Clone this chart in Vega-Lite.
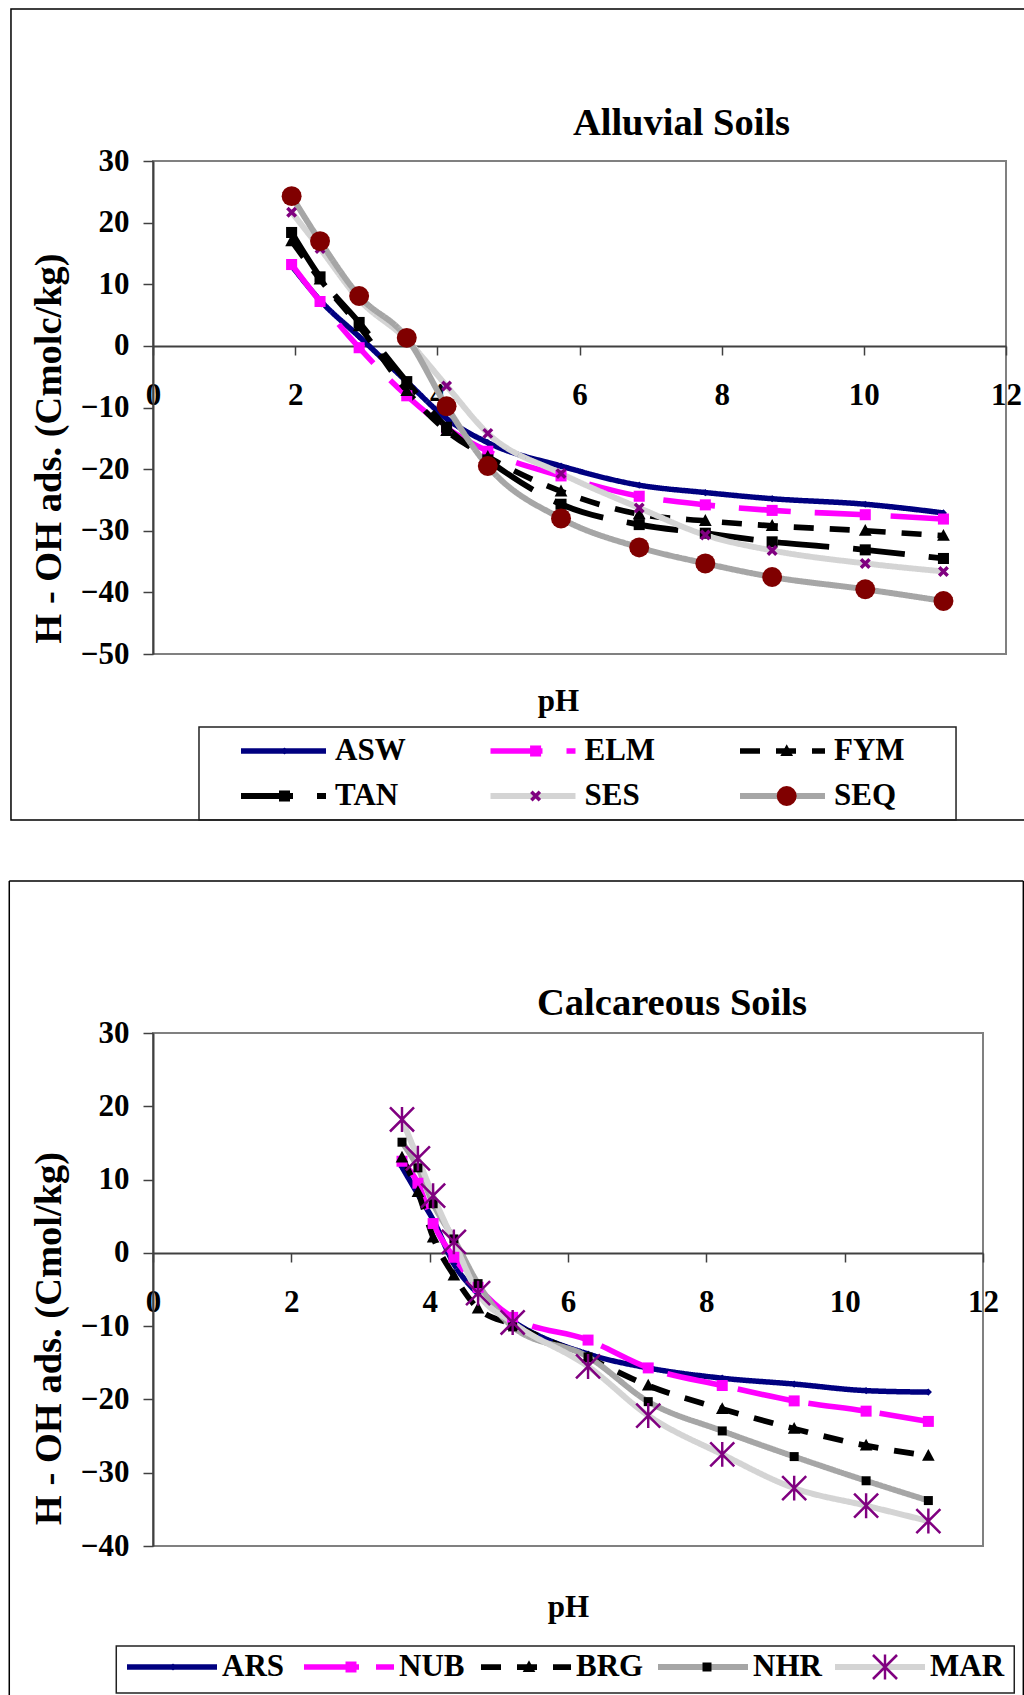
{
"$schema": "https://vega.github.io/schema/vega-lite/v6.json",
"padding": {"left": 7, "top": 7, "right": 0, "bottom": 0},
"spacing": 57,
"resolve": {"scale": {"stroke": "independent", "strokeDash": "independent", "strokeWidth": "independent", "fill": "independent", "shape": "independent"}},
"config": {
  "font": "Liberation Serif",
  "view": {"stroke": "#808080", "strokeWidth": 2},
  "axis": {"labelFont": "Liberation Serif", "labelFontWeight": "bold", "labelFontSize": 31, "labelColor": "#000", "titleFont": "Liberation Serif", "titleFontWeight": "bold", "titleColor": "#000", "grid": false, "domainColor": "#404040", "domainWidth": 2, "tickColor": "#404040", "tickWidth": 1.5, "labelFlush": false},
  "legend": {"labelFont": "Liberation Serif", "labelFontWeight": "bold", "labelFontSize": 31, "labelColor": "#000"},
  "title": {"font": "Liberation Serif", "fontWeight": "bold", "color": "#000"}
},
"vconcat": [
{
  "width": 853, "height": 493,
  "title": {"text": "Alluvial Soils", "fontSize": 38.5, "anchor": "middle", "frame": "group", "dx": 102, "baseline": "alphabetic", "offset": -165},
  "data": {"values": [
    {"pH":1.95,"series":"ASW","v":13.0},{"pH":2.35,"series":"ASW","v":7.4},{"pH":2.9,"series":"ASW","v":1.5},{"pH":3.57,"series":"ASW","v":-5.8},{"pH":4.13,"series":"ASW","v":-11.8},{"pH":4.71,"series":"ASW","v":-15.7},{"pH":5.74,"series":"ASW","v":-19.5},{"pH":6.84,"series":"ASW","v":-22.6},{"pH":7.77,"series":"ASW","v":-23.8},{"pH":8.71,"series":"ASW","v":-24.8},{"pH":10.02,"series":"ASW","v":-25.7},{"pH":11.12,"series":"ASW","v":-27.1},
    {"pH":1.95,"series":"ELM","v":13.2},{"pH":2.35,"series":"ELM","v":7.2},{"pH":2.9,"series":"ELM","v":-0.3},{"pH":3.57,"series":"ELM","v":-8.1},{"pH":4.13,"series":"ELM","v":-13.3},{"pH":4.71,"series":"ELM","v":-17.1},{"pH":5.74,"series":"ELM","v":-21.1},{"pH":6.84,"series":"ELM","v":-24.4},{"pH":7.77,"series":"ELM","v":-25.8},{"pH":8.71,"series":"ELM","v":-26.7},{"pH":10.02,"series":"ELM","v":-27.4},{"pH":11.12,"series":"ELM","v":-28.1},
    {"pH":1.95,"series":"FYM","v":17.0},{"pH":2.35,"series":"FYM","v":10.8},{"pH":2.9,"series":"FYM","v":3.2},{"pH":3.57,"series":"FYM","v":-7.3},{"pH":4.13,"series":"FYM","v":-13.8},{"pH":4.71,"series":"FYM","v":-18.0},{"pH":5.74,"series":"FYM","v":-23.6},{"pH":6.84,"series":"FYM","v":-27.3},{"pH":7.77,"series":"FYM","v":-28.4},{"pH":8.71,"series":"FYM","v":-29.2},{"pH":10.02,"series":"FYM","v":-30.0},{"pH":11.12,"series":"FYM","v":-30.8},
    {"pH":1.95,"series":"TAN","v":18.4},{"pH":2.35,"series":"TAN","v":11.2},{"pH":2.9,"series":"TAN","v":3.8},{"pH":3.57,"series":"TAN","v":-5.8},{"pH":4.13,"series":"TAN","v":-13.2},{"pH":4.71,"series":"TAN","v":-18.5},{"pH":5.74,"series":"TAN","v":-25.7},{"pH":6.84,"series":"TAN","v":-29.0},{"pH":7.77,"series":"TAN","v":-30.4},{"pH":8.71,"series":"TAN","v":-31.8},{"pH":10.02,"series":"TAN","v":-33.1},{"pH":11.12,"series":"TAN","v":-34.5},
    {"pH":1.95,"series":"SES","v":21.7},{"pH":2.35,"series":"SES","v":15.8},{"pH":2.9,"series":"SES","v":7.5},{"pH":3.57,"series":"SES","v":1.0},{"pH":4.13,"series":"SES","v":-6.5},{"pH":4.71,"series":"SES","v":-14.2},{"pH":5.74,"series":"SES","v":-20.7},{"pH":6.84,"series":"SES","v":-26.3},{"pH":7.77,"series":"SES","v":-30.7},{"pH":8.71,"series":"SES","v":-33.2},{"pH":10.02,"series":"SES","v":-35.3},{"pH":11.12,"series":"SES","v":-36.6},
    {"pH":1.95,"series":"SEQ","v":24.3},{"pH":2.35,"series":"SEQ","v":17.0},{"pH":2.9,"series":"SEQ","v":8.1},{"pH":3.57,"series":"SEQ","v":1.3},{"pH":4.13,"series":"SEQ","v":-9.8},{"pH":4.71,"series":"SEQ","v":-19.5},{"pH":5.74,"series":"SEQ","v":-28.0},{"pH":6.84,"series":"SEQ","v":-32.7},{"pH":7.77,"series":"SEQ","v":-35.3},{"pH":8.71,"series":"SEQ","v":-37.5},{"pH":10.02,"series":"SEQ","v":-39.5},{"pH":11.12,"series":"SEQ","v":-41.4}
  ]},
  "resolve": {"axis": {"x": "independent", "y": "independent"}},
  "layer": [
    {"data": {"values": [{}]}, "mark": {"type": "rect", "fill": "transparent", "stroke": "#000", "strokeWidth": 1.5},
     "encoding": {"x": {"datum": -1.998, "type": "quantitative", "scale": {"domain": [0, 12], "nice": false}, "axis": null}, "x2": {"datum": 12.267},
                  "y": {"datum": 54.66, "type": "quantitative", "scale": {"domain": [-50, 30], "nice": false}, "axis": null}, "y2": {"datum": -76.94}}},
    {"data": {"values": [{}]}, "mark": {"type": "rect", "fill": "transparent", "stroke": "#222", "strokeWidth": 1.5},
     "encoding": {"x": {"datum": 0.647, "type": "quantitative", "scale": {"domain": [0, 12], "nice": false}, "axis": null}, "x2": {"datum": 11.297},
                  "y": {"datum": -61.85, "type": "quantitative", "scale": {"domain": [-50, 30], "nice": false}, "axis": null}, "y2": {"datum": -76.94}}},
    {"mark": {"type": "line", "interpolate": "monotone"},
     "encoding": {
       "x": {"field": "pH", "type": "quantitative", "scale": {"domain": [0, 12], "nice": false},
             "axis": {"orient": "bottom", "values": [0, 2, 4, 6, 8, 10, 12], "offset": -308, "title": null, "tickSize": 9, "labelPadding": 25}},
       "y": {"field": "v", "type": "quantitative", "scale": {"domain": [-50, 30], "nice": false},
             "axis": {"orient": "left", "values": [-50, -40, -30, -20, -10, 0, 10, 20, 30], "title": "H - OH ads. (Cmolc/kg)", "titleFontSize": 38.5, "titlePadding": 12, "titleY": 287, "labelPadding": 14, "tickSize": 10}},
       "stroke": {"field": "series", "type": "nominal",
                  "scale": {"domain": ["ASW", "ELM", "FYM", "TAN", "SES", "SEQ"], "range": ["#000080", "#FF00FF", "#000000", "#000000", "#D4D4D4", "#A6A6A6"]},
                  "legend": {"title": null, "orient": "none", "legendX": 85, "legendY": 572, "direction": "horizontal", "columns": 3, "gridAlign": "all", "columnPadding": 81.5, "rowPadding": 9, "padding": 0, "symbolType": "stroke", "symbolSize": 7225, "labelOffset": 6, "clipHeight": 36}},
       "strokeDash": {"field": "series", "type": "nominal",
                  "scale": {"domain": ["ASW", "ELM", "FYM", "TAN", "SES", "SEQ"], "range": [[1, 0], [52, 24], [20, 16], [52, 24], [1, 0], [1, 0]]},
                  "legend": {"title": null, "orient": "none", "legendX": 85, "legendY": 572, "direction": "horizontal", "columns": 3, "gridAlign": "all", "columnPadding": 81.5, "rowPadding": 9, "padding": 0, "symbolType": "stroke", "symbolSize": 7225, "labelOffset": 6, "clipHeight": 36}},
       "strokeWidth": {"field": "series", "type": "nominal",
                  "scale": {"domain": ["ASW", "ELM", "FYM", "TAN", "SES", "SEQ"], "range": [5.5, 6, 6, 6, 8, 8]},
                  "legend": {"title": null, "orient": "none", "legendX": 85, "legendY": 572, "direction": "horizontal", "columns": 3, "gridAlign": "all", "columnPadding": 81.5, "rowPadding": 9, "padding": 0, "symbolType": "stroke", "symbolSize": 7225, "labelOffset": 6, "clipHeight": 36}}
     }},
    {"mark": {"type": "point", "filled": true, "size": 7225, "opacity": 1, "strokeWidth": 0},
     "encoding": {
       "x": {"field": "pH", "type": "quantitative", "scale": {"domain": [0, 12], "nice": false},
             "axis": {"orient": "bottom", "title": "pH", "domain": false, "ticks": false, "labels": false, "titleFontSize": 31, "titleBaseline": "alphabetic", "titlePadding": 56, "titleX": 405, "titleAlign": "center"}},
       "y": {"field": "v", "type": "quantitative", "scale": {"domain": [-50, 30], "nice": false}, "axis": null},
       "fill": {"field": "series", "type": "nominal",
                "scale": {"domain": ["ASW", "ELM", "FYM", "TAN", "SES", "SEQ", "~"], "range": ["#000080", "#FF00FF", "#000000", "#000000", "#800080", "#800000", "#ffffff"]},
                "legend": {"title": null, "values": ["ASW", "ELM", "FYM", "TAN", "SES", "SEQ"], "labelExpr": "''", "orient": "none", "legendX": 85, "legendY": 572, "direction": "horizontal", "columns": 3, "gridAlign": "all", "columnPadding": 152.1, "rowPadding": 9, "padding": 0, "symbolSize": 7225, "symbolStrokeWidth": 8, "symbolStrokeColor": "transparent", "labelOffset": 6, "clipHeight": 36}},
       "shape": {"field": "series", "type": "nominal",
                "scale": {"domain": ["ASW", "ELM", "FYM", "TAN", "SES", "SEQ", "~"], "range": [
                  "M-1,0M1,0M0,-0.085L0.085,0L0,0.085L-0.085,0Z",
                  "M-1,0M1,0M-0.13,-0.13L0.13,-0.13L0.13,0.13L-0.13,0.13Z",
                  "M-1,0M1,0M0,-0.16L0.15,0.12L-0.15,0.12Z",
                  "M-1,0M1,0M-0.13,-0.13L0.13,-0.13L0.13,0.13L-0.13,0.13Z",
                  "M-1,0M1,0M-0.071,-0.129L0.129,0.071L0.071,0.129L-0.129,-0.071ZM-0.129,0.071L0.071,-0.129L0.129,-0.071L-0.071,0.129Z",
                  "M-1,0M1,0M0.235,0L0.217,0.09L0.166,0.166L0.09,0.217L0,0.235L-0.09,0.217L-0.166,0.166L-0.217,0.09L-0.235,0L-0.217,-0.09L-0.166,-0.166L-0.09,-0.217L0,-0.235L0.09,-0.217L0.166,-0.166L0.217,-0.09Z",
                  "M-1,0M1,0"]},
                "legend": {"title": null, "values": ["ASW", "ELM", "FYM", "TAN", "SES", "SEQ"], "labelExpr": "''", "orient": "none", "legendX": 85, "legendY": 572, "direction": "horizontal", "columns": 3, "gridAlign": "all", "columnPadding": 152.1, "rowPadding": 9, "padding": 0, "symbolSize": 7225, "symbolStrokeWidth": 8, "symbolStrokeColor": "transparent", "labelOffset": 6, "clipHeight": 36}}
     }}
  ]
},
{
  "width": 830, "height": 513,
  "title": {"text": "Calcareous Soils", "fontSize": 38.5, "anchor": "middle", "frame": "group", "dx": 104, "baseline": "alphabetic", "offset": -173},
  "data": {"values": [
    {"pH":3.6,"series":"ARS","v":11.7},{"pH":3.83,"series":"ARS","v":8.0},{"pH":4.05,"series":"ARS","v":4.5},{"pH":4.35,"series":"ARS","v":-1.5},{"pH":4.7,"series":"ARS","v":-5.6},{"pH":5.2,"series":"ARS","v":-9.3},{"pH":6.29,"series":"ARS","v":-13.8},{"pH":7.16,"series":"ARS","v":-15.7},{"pH":8.23,"series":"ARS","v":-17.1},{"pH":9.27,"series":"ARS","v":-17.9},{"pH":10.31,"series":"ARS","v":-18.8},{"pH":11.21,"series":"ARS","v":-19.0},
    {"pH":3.6,"series":"NUB","v":12.5},{"pH":3.83,"series":"NUB","v":9.5},{"pH":4.05,"series":"NUB","v":4.0},{"pH":4.35,"series":"NUB","v":-0.6},{"pH":4.7,"series":"NUB","v":-4.7},{"pH":5.2,"series":"NUB","v":-8.8},{"pH":6.29,"series":"NUB","v":-11.9},{"pH":7.16,"series":"NUB","v":-15.7},{"pH":8.23,"series":"NUB","v":-18.1},{"pH":9.27,"series":"NUB","v":-20.2},{"pH":10.31,"series":"NUB","v":-21.6},{"pH":11.21,"series":"NUB","v":-23.0},
    {"pH":3.6,"series":"BRG","v":13.0},{"pH":3.83,"series":"BRG","v":8.3},{"pH":4.05,"series":"BRG","v":2.1},{"pH":4.35,"series":"BRG","v":-3.1},{"pH":4.7,"series":"BRG","v":-7.6},{"pH":5.2,"series":"BRG","v":-9.8},{"pH":6.29,"series":"BRG","v":-14.3},{"pH":7.16,"series":"BRG","v":-18.1},{"pH":8.23,"series":"BRG","v":-21.3},{"pH":9.27,"series":"BRG","v":-24.0},{"pH":10.31,"series":"BRG","v":-26.3},{"pH":11.21,"series":"BRG","v":-27.7},
    {"pH":3.6,"series":"NHR","v":15.1},{"pH":3.83,"series":"NHR","v":11.6},{"pH":4.05,"series":"NHR","v":6.7},{"pH":4.35,"series":"NHR","v":1.9},{"pH":4.7,"series":"NHR","v":-4.2},{"pH":5.2,"series":"NHR","v":-10.1},{"pH":6.29,"series":"NHR","v":-14.2},{"pH":7.16,"series":"NHR","v":-20.3},{"pH":8.23,"series":"NHR","v":-24.3},{"pH":9.27,"series":"NHR","v":-27.8},{"pH":10.31,"series":"NHR","v":-31.1},{"pH":11.21,"series":"NHR","v":-33.8},
    {"pH":3.6,"series":"MAR","v":18.2},{"pH":3.83,"series":"MAR","v":12.9},{"pH":4.05,"series":"MAR","v":7.8},{"pH":4.35,"series":"MAR","v":1.5},{"pH":4.7,"series":"MAR","v":-5.5},{"pH":5.2,"series":"MAR","v":-9.5},{"pH":6.29,"series":"MAR","v":-15.5},{"pH":7.16,"series":"MAR","v":-22.2},{"pH":8.23,"series":"MAR","v":-27.5},{"pH":9.27,"series":"MAR","v":-32.1},{"pH":10.31,"series":"MAR","v":-34.5},{"pH":11.21,"series":"MAR","v":-36.6}
  ]},
  "resolve": {"axis": {"x": "independent", "y": "independent"}},
  "layer": [
    {"data": {"values": [{}]}, "mark": {"type": "rule", "stroke": "#000", "strokeWidth": 1.5},
     "encoding": {"x": {"datum": -2.078, "type": "quantitative", "scale": {"domain": [0, 12], "nice": false}, "axis": null},
                  "y": {"datum": 50.74, "type": "quantitative", "scale": {"domain": [-40, 30], "nice": false}, "axis": null}, "y2": {"datum": -60.74}}},
    {"data": {"values": [{}]}, "mark": {"type": "rule", "stroke": "#000", "strokeWidth": 1.5},
     "encoding": {"x": {"datum": 12.583, "type": "quantitative", "scale": {"domain": [0, 12], "nice": false}, "axis": null},
                  "y": {"datum": 50.74, "type": "quantitative", "scale": {"domain": [-40, 30], "nice": false}, "axis": null}, "y2": {"datum": -60.74}}},
    {"data": {"values": [{}]}, "mark": {"type": "rule", "stroke": "#000", "strokeWidth": 1.5},
     "encoding": {"x": {"datum": -2.078, "type": "quantitative", "scale": {"domain": [0, 12], "nice": false}, "axis": null}, "x2": {"datum": 12.583},
                  "y": {"datum": 50.74, "type": "quantitative", "scale": {"domain": [-40, 30], "nice": false}, "axis": null}}},
    {"data": {"values": [{}]}, "mark": {"type": "rect", "fill": "transparent", "stroke": "#222", "strokeWidth": 1.5},
     "encoding": {"x": {"datum": -0.531, "type": "quantitative", "scale": {"domain": [0, 12], "nice": false}, "axis": null}, "x2": {"datum": 12.452},
                  "y": {"datum": -53.65, "type": "quantitative", "scale": {"domain": [-40, 30], "nice": false}, "axis": null}, "y2": {"datum": -60.06}}},
    {"mark": {"type": "line", "interpolate": "monotone"},
     "encoding": {
       "x": {"field": "pH", "type": "quantitative", "scale": {"domain": [0, 12], "nice": false},
             "axis": {"orient": "bottom", "values": [0, 2, 4, 6, 8, 10, 12], "offset": -293, "title": null, "tickSize": 9, "labelPadding": 25}},
       "y": {"field": "v", "type": "quantitative", "scale": {"domain": [-40, 30], "nice": false},
             "axis": {"orient": "left", "values": [-40, -30, -20, -10, 0, 10, 20, 30], "title": "H - OH ads. (Cmol/kg)", "titleFontSize": 38.5, "titlePadding": 12, "titleY": 305, "labelPadding": 14, "tickSize": 10}},
       "stroke": {"field": "series", "type": "nominal",
                  "scale": {"domain": ["ARS", "NUB", "BRG", "NHR", "MAR"], "range": ["#000080", "#FF00FF", "#000000", "#A6A6A6", "#D4D4D4"]},
                  "legend": {"title": null, "orient": "none", "legendX": -29, "legendY": 616, "direction": "horizontal", "columns": 5, "gridAlign": "all", "columnPadding": 4, "rowPadding": 9, "padding": 0, "symbolType": "stroke", "symbolSize": 8100, "labelOffset": 2, "clipHeight": 36}},
       "strokeDash": {"field": "series", "type": "nominal",
                  "scale": {"domain": ["ARS", "NUB", "BRG", "NHR", "MAR"], "range": [[1, 0], [55, 17], [20, 16], [1, 0], [1, 0]]},
                  "legend": {"title": null, "orient": "none", "legendX": -29, "legendY": 616, "direction": "horizontal", "columns": 5, "gridAlign": "all", "columnPadding": 4, "rowPadding": 9, "padding": 0, "symbolType": "stroke", "symbolSize": 8100, "labelOffset": 2, "clipHeight": 36}},
       "strokeWidth": {"field": "series", "type": "nominal",
                  "scale": {"domain": ["ARS", "NUB", "BRG", "NHR", "MAR"], "range": [5.5, 6, 6, 8, 8]},
                  "legend": {"title": null, "orient": "none", "legendX": -29, "legendY": 616, "direction": "horizontal", "columns": 5, "gridAlign": "all", "columnPadding": 4, "rowPadding": 9, "padding": 0, "symbolType": "stroke", "symbolSize": 8100, "labelOffset": 2, "clipHeight": 36}}
     }},
    {"mark": {"type": "point", "filled": true, "size": 8100, "opacity": 1, "strokeWidth": 0},
     "encoding": {
       "x": {"field": "pH", "type": "quantitative", "scale": {"domain": [0, 12], "nice": false},
             "axis": {"orient": "bottom", "title": "pH", "domain": false, "ticks": false, "labels": false, "titleFontSize": 31, "titleBaseline": "alphabetic", "titlePadding": 70}},
       "y": {"field": "v", "type": "quantitative", "scale": {"domain": [-40, 30], "nice": false}, "axis": null},
       "fill": {"field": "series", "type": "nominal",
                "scale": {"domain": ["ARS", "NUB", "BRG", "NHR", "MAR", "~"], "range": ["#000080", "#FF00FF", "#000000", "#000000", "#800080", "#ffffff"]},
                "legend": {"title": null, "values": ["ARS", "NUB", "BRG", "NHR", "MAR"], "labelExpr": "''", "orient": "none", "legendX": -29, "legendY": 616, "direction": "horizontal", "columns": 5, "gridAlign": "all", "columnPadding": 78, "rowPadding": 9, "padding": 0, "symbolSize": 8100, "symbolStrokeWidth": 8, "symbolStrokeColor": "transparent", "labelOffset": 2, "clipHeight": 36}},
       "shape": {"field": "series", "type": "nominal",
                "scale": {"domain": ["ARS", "NUB", "BRG", "NHR", "MAR", "~"], "range": [
                  "M-1,0M1,0M0,-0.08L0.08,0L0,0.08L-0.08,0Z",
                  "M-1,0M1,0M-0.122,-0.122L0.122,-0.122L0.122,0.122L-0.122,0.122Z",
                  "M-1,0M1,0M0,-0.15L0.14,0.11L-0.14,0.11Z",
                  "M-1,0M1,0M-0.1,-0.1L0.1,-0.1L0.1,0.1L-0.1,0.1Z",
                  "M-1,0M1,0M-0.247,-0.287L0.287,0.247L0.247,0.287L-0.287,-0.247ZM-0.287,0.247L0.247,-0.287L0.287,-0.247L-0.247,0.287ZM-0.027,-0.277L0.027,-0.277L0.027,0.277L-0.027,0.277Z",
                  "M-1,0M1,0"]},
                "legend": {"title": null, "values": ["ARS", "NUB", "BRG", "NHR", "MAR"], "labelExpr": "''", "orient": "none", "legendX": -29, "legendY": 616, "direction": "horizontal", "columns": 5, "gridAlign": "all", "columnPadding": 78, "rowPadding": 9, "padding": 0, "symbolSize": 8100, "symbolStrokeWidth": 8, "symbolStrokeColor": "transparent", "labelOffset": 2, "clipHeight": 36}}
     }}
  ]
}
]
}
